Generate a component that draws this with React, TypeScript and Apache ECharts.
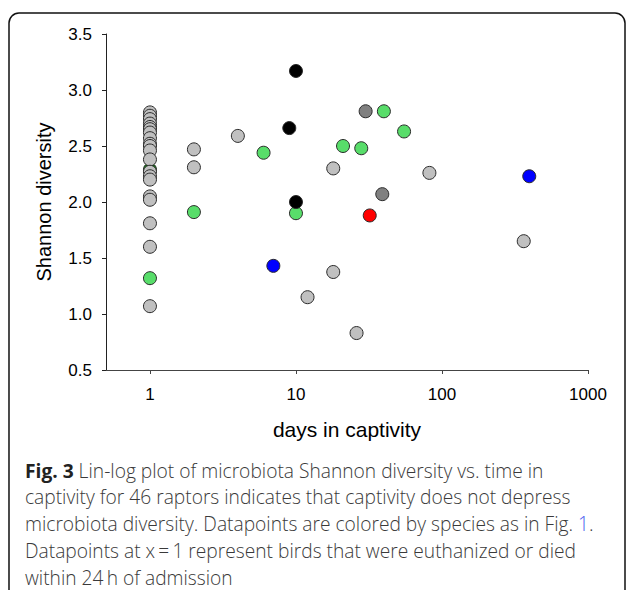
import React, { useEffect, useRef } from "react";
import * as echarts from "echarts";

// Light gray species
const grayDays = [1, 1, 1, 1, 1, 1, 1, 1, 1, 1, 1, 1, 1, 1, 1, 1, 1, 1, 1, 1, 4, 2, 2, 18, 18, 12, 26, 82, 363];
const grayShannon = [2.8, 2.77, 2.74, 2.7, 2.67, 2.65, 2.62, 2.57, 2.52, 2.5, 2.46, 2.38, 2.27, 2.23, 2.2, 2.05, 2.02, 1.81, 1.6, 1.07, 2.59, 2.47, 2.31, 2.3, 1.375, 1.15, 0.83, 2.26, 1.65];
// Bright green species
const greenDays = [1, 2, 6, 10, 21, 28, 40, 55];
const greenShannon = [1.32, 1.91, 2.44, 1.9, 2.5, 2.48, 2.81, 2.63];
// Dark green species
const darkGreenDays = [1];
const darkGreenShannon = [2.29];
// Dark gray species
const darkGrayDays = [30, 39];
const darkGrayShannon = [2.81, 2.07];
// Black species
const blackDays = [9, 10, 10];
const blackShannon = [2.66, 3.17, 2.0];
// Red species
const redDays = [32];
const redShannon = [1.88];
// Blue species
const blueDays = [7, 396];
const blueShannon = [1.43, 2.23];

const xTickDays = [1, 10, 100, 1000];
const yTicks = [0.5, 1.0, 1.5, 2.0, 2.5, 3.0, 3.5];

const captionLines = [
  "{b|Fig. 3} Lin-log plot of microbiota Shannon diversity vs. time in",
  "captivity for 46 raptors indicates that captivity does not depress",
  "microbiota diversity. Datapoints are colored by species as in Fig. {l|1}.",
  "Datapoints at x\u2009=\u20091 represent birds that were euthanized or died",
  "within 24\u2009h of admission",
];

const toPts = (d: number[], v: number[]) => d.map((x, i) => [Math.log10(x), v[i]]);

const AXIS_FONT = "Liberation Sans";
const CAP_FONT = "Open Sans";
const CAP_SIZE = 19.2;

export default function App() {
  const ref = useRef<HTMLDivElement>(null);
  useEffect(() => {
    if (!ref.current) return;
    const chart = echarts.init(ref.current, null, { renderer: "svg" });
    const mk = (name: string, d: number[], v: number[], color: string) => ({
      name,
      type: "scatter",
      data: toPts(d, v),
      symbol: "circle",
      symbolSize: 13,
      itemStyle: { color, borderColor: "#2a2a2a", borderWidth: 1, opacity: 1 },
      emphasis: { disabled: true },
    });
    chart.setOption({
      animation: false,
      textStyle: { fontFamily: AXIS_FONT },
      grid: { left: 106, right: 39, top: 34, bottom: 220, containLabel: false },
      xAxis: {
        type: "value",
        min: Math.log10(0.5),
        max: 3,
        name: "days in captivity",
        nameLocation: "middle",
        nameGap: 49,
        nameTextStyle: { fontSize: 21, color: "#000", fontFamily: AXIS_FONT },
        splitLine: { show: false },
        axisLine: { show: true, onZero: false, lineStyle: { color: "#444", width: 1 } },
        axisTick: {
          show: true,
          length: 4,
          lineStyle: { color: "#444" },
          customValues: xTickDays.map((d) => Math.log10(d)),
        },
        axisLabel: {
          customValues: xTickDays.map((d) => Math.log10(d)),
          formatter: (v: number) => String(Math.round(Math.pow(10, v))),
          fontSize: 17,
          color: "#000",
          margin: 16,
          fontFamily: AXIS_FONT,
        },
      },
      yAxis: {
        type: "value",
        min: 0.5,
        max: 3.5,
        interval: 0.5,
        name: "Shannon diversity",
        nameLocation: "middle",
        nameGap: 52,
        nameRotate: 90,
        nameTextStyle: { fontSize: 20, color: "#000", fontFamily: AXIS_FONT },
        splitLine: { show: false },
        axisLine: { show: true, onZero: false, lineStyle: { color: "#222", width: 1 } },
        axisTick: { show: true, length: 4, lineStyle: { color: "#222", width: 1 } },
        axisLabel: {
          formatter: (v: number) => (yTicks.includes(v) ? v.toFixed(1) : ""),
          fontSize: 17,
          color: "#000",
          margin: 14,
          fontFamily: AXIS_FONT,
        },
      },
      series: [
        mk("darkgreen", darkGreenDays, darkGreenShannon, "#007a00"),
        mk("gray", grayDays, grayShannon, "#c0c0c0"),
        mk("green", greenDays, greenShannon, "#58dd6a"),
        mk("darkgray", darkGrayDays, darkGrayShannon, "#808080"),
        mk("red", redDays, redShannon, "#ff0000"),
        mk("blue", blueDays, blueShannon, "#0000ff"),
        mk("black", blackDays, blackShannon, "#000000"),
      ],
      graphic: [
        {
          type: "rect",
          shape: { x: 9, y: 13, width: 616, height: 620, r: 10 },
          style: { fill: "none", stroke: "#111", lineWidth: 1.5 },
          silent: true,
          z: -1,
        },
        ...captionLines.map((t, i) => ({
          type: "text",
          x: 25,
          y: 470 + i * 26.8,
          style: {
            text: t,
            fill: "#3a3a3a",
            fontSize: CAP_SIZE,
            fontWeight: 300,
            fontFamily: CAP_FONT,
            verticalAlign: "middle",
            align: "left",
            rich: {
              b: { fontWeight: "bold", fill: "#222", fontSize: CAP_SIZE, fontFamily: CAP_FONT },
              l: { fill: "#4a5cf0", fontSize: CAP_SIZE, fontWeight: 300, fontFamily: CAP_FONT },
            },
          },
          silent: true,
        })),
      ],
    });
    return () => chart.dispose();
  }, []);
  return (
    <div
      ref={ref}
      style={{ position: "fixed", left: 0, top: 0, width: 627, height: 590, background: "#fff" }}
    />
  );
}
